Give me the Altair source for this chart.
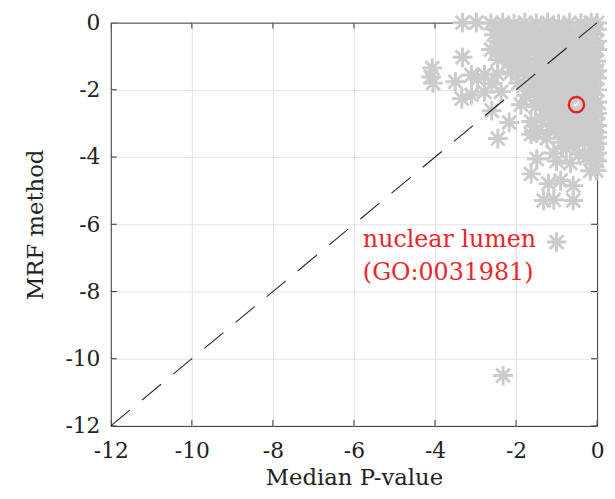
import altair as alt
import pandas as pd

FONT = "DejaVu Serif"
tick_values = [-12, -10, -8, -6, -4, -2, 0]

# gray asterisks (Median P-value, MRF method)
pts_x = [
    # y ~ 0
    -3.32, -2.98, -2.62, -2.33, -2.05, -1.78, -1.5, -1.22, -0.95, -0.68, -0.4, -0.15, 0.0,
    # y ~ -0.2
    -2.48, -2.2, -1.92, -1.63, -1.35, -1.07, -0.8, -0.52, -0.26, 0.0,
    # y ~ -0.38
    -2.55, -2.28, -2.0, -1.72, -1.45, -1.18, -0.9, -0.62, -0.35, -0.08,
    # y ~ -0.56
    -2.42, -2.14, -1.86, -1.58, -1.31, -1.04, -0.76, -0.49, -0.22, 0.0,
    # y ~ -0.75
    -2.62, -2.4, -2.12, -1.85, -1.58, -1.3, -1.02, -0.75, -0.48, -0.2, 0.0,
    # y ~ -0.93
    -2.3, -2.02, -1.76, -1.47, -1.2, -0.94, -0.66, -0.4, -0.13,
    # y ~ -1.12
    -2.45, -2.18, -1.9, -1.64, -1.36, -1.08, -0.82, -0.55, -0.27, -0.02,
    # y ~ -1.3
    -1.98, -1.74, -1.5, -1.22, -0.95, -0.68, -0.41, -0.14,
    # y ~ -1.48
    -2.12, -1.82, -1.56, -1.28, -1.0, -0.73, -0.46, -0.2, 0.0,
    # y ~ -1.65
    -1.55, -1.26, -0.99, -0.72, -0.45, -0.19, 0.0,
    # y ~ -1.83
    -1.95, -1.68, -1.4, -1.12, -0.86, -0.6, -0.33, -0.07,
    # y ~ -2.0
    -1.5, -1.25, -1.0, -0.74, -0.5, -0.24, 0.0,
    # y ~ -2.18
    -1.75, -1.48, -1.2, -0.93, -0.66, -0.38, -0.12,
    # y ~ -2.35
    -1.36, -1.1, -0.82, -0.2, 0.0,
    # y ~ -2.52
    -1.52, -1.26, -0.98, -0.72, -0.28, -0.02,
    # y ~ -2.7
    -1.2, -0.95, -0.7, -0.44, -0.17, 0.0,
    # y ~ -2.88
    -1.38, -1.1, -0.84, -0.56, -0.3, -0.04,
    # y ~ -3.05
    -1.05, -0.8, -0.53, -0.27, 0.0,
    # y ~ -3.22
    -1.18, -0.92, -0.66, -0.4, -0.15, 0.0,
    # y ~ -3.4
    -0.78, -0.5, -0.22, 0.0,
    # y ~ -3.58
    -0.88, -0.6, -0.33, -0.06,
    # y ~ -3.9
    -0.45, -0.2, 0.0,
    # scattered upper-left
    -4.07, -4.1, -4.05, -3.32, -3.5, -3.34, -3.1, -3.1, -2.95, -2.78, -2.78, -2.6,
    -2.46, -2.37, -2.6, -2.45, -2.17, -1.88, -1.63, -1.63, -1.8,
    # scattered lower-right
    -1.56, -1.24, -1.49, -1.63, -1.2, -0.9, -0.59, -1.32, -1.07, -0.59, -1.0, -0.66,
    -0.27, 0.0, -0.17, 0.0, -0.1, -0.34, -0.76, -1.07, -1.49, -0.02,
    # outliers
    -2.32, -1.0,
]
pts_y = [
    0.0, 0.0, -0.02, 0.0, -0.03, 0.0, -0.02, 0.0, -0.04, 0.0, -0.02, 0.0, -0.01,
    -0.2, -0.18, -0.22, -0.19, -0.21, -0.17, -0.2, -0.23, -0.18, -0.2,
    -0.36, -0.42, -0.35, -0.4, -0.38, -0.33, -0.41, -0.37, -0.39, -0.35,
    -0.56, -0.58, -0.54, -0.57, -0.55, -0.59, -0.53, -0.56, -0.58, -0.55,
    -0.8, -0.72, -0.78, -0.74, -0.7, -0.79, -0.73, -0.77, -0.71, -0.76, -0.8,
    -0.93, -0.95, -0.91, -0.94, -0.92, -0.96, -0.9, -0.93, -0.95,
    -1.1, -1.15, -1.08, -1.14, -1.1, -1.16, -1.09, -1.13, -1.11, -1.15,
    -1.3, -1.28, -1.32, -1.29, -1.31, -1.27, -1.33, -1.3,
    -1.47, -1.5, -1.44, -1.49, -1.46, -1.52, -1.45, -1.5, -1.43,
    -1.65, -1.67, -1.63, -1.66, -1.64, -1.68, -1.65,
    -1.8, -1.86, -1.82, -1.85, -1.8, -1.84, -1.87, -1.82,
    -2.0, -2.02, -1.98, -2.01, -2.03, -1.99, -2.0,
    -2.16, -2.2, -2.15, -2.21, -2.17, -2.19, -2.14,
    -2.35, -2.33, -2.37, -2.34, -2.36,
    -2.5, -2.55, -2.49, -2.54, -2.51, -2.56,
    -2.7, -2.68, -2.72, -2.69, -2.71, -2.7,
    -2.86, -2.9, -2.85, -2.91, -2.87, -2.84,
    -3.05, -3.03, -3.07, -3.04, -3.06,
    -3.2, -3.25, -3.21, -3.24, -3.19, -3.26,
    -3.4, -3.42, -3.38, -3.41,
    -3.56, -3.6, -3.55, -3.61,
    -3.9, -3.95, -3.88,
    -1.35, -1.62, -1.8, -1.03, -1.76, -2.26, -1.56, -2.15, -1.68, -1.55, -2.06, -1.82,
    -1.53, -2.06, -2.62, -3.45, -2.97, -2.44, -2.94, -3.32, -1.38,
    -3.24, -3.44, -4.06, -4.5, -4.79, -4.7, -4.85, -5.29, -5.27, -5.29, -4.12, -4.18,
    -4.03, -4.12, -4.41, -3.6, -3.32, -3.53, -3.74, -3.88, -3.29, -4.4,
    -10.5, -6.53,
]

diag_x = [-12, 0]
diag_y = [-12, 0]

hl_x = [-0.51]
hl_y = [-2.44]

label_x = [-5.78]
label_y = [-6.68]
label_text = ["nuclear lumen\n(GO:0031981)"]

pts = pd.DataFrame({"x": pts_x, "y": pts_y})
diag = pd.DataFrame({"x": diag_x, "y": diag_y})
hl = pd.DataFrame({"x": hl_x, "y": hl_y})
lab = pd.DataFrame({"x": label_x, "y": label_y, "t": label_text})
ticks = pd.DataFrame({"v": tick_values})

xs = alt.Scale(domain=[-12, 0], nice=False, zero=False)
ys = alt.Scale(domain=[-12, 0], nice=False, zero=False)

grid_op = {"condition": {"test": "datum.value == -12 || datum.value == 0", "value": 0}, "value": 1}

xaxis = alt.Axis(values=tick_values, title="Median P-value", grid=True, gridColor="#e3e3e3",
                 gridOpacity=grid_op, domain=False, ticks=False, tickSize=0,
                 labelExpr="toString(datum.value)", labelFont=FONT, labelFontSize=22,
                 labelColor="#222222", labelPadding=15, labelFlush=False,
                 titleFont=FONT, titleFontSize=23, titleFontWeight="normal",
                 titleColor="#222222", titlePadding=5)
yaxis = alt.Axis(values=tick_values, title="MRF method", grid=True, gridColor="#e3e3e3",
                 gridOpacity=grid_op, domain=False, ticks=False, tickSize=0,
                 labelExpr="toString(datum.value)", labelFont=FONT, labelFontSize=22,
                 labelColor="#222222", labelPadding=11, labelFlush=False,
                 titleFont=FONT, titleFontSize=23, titleFontWeight="normal",
                 titleColor="#222222", titlePadding=18)

ASTER = "M-1,0L1,0M0,-1L0,1M-0.7,-0.7L0.7,0.7M-0.7,0.7L0.7,-0.7"

points = alt.Chart(pts).mark_point(shape=ASTER, size=400, filled=False, color="#cccccc",
                                   strokeWidth=3, opacity=1).encode(
    x=alt.X("x:Q", scale=xs, axis=xaxis),
    y=alt.Y("y:Q", scale=ys, axis=yaxis),
)

tick_style = dict(size=12, thickness=1, color="#333333", clip=True, opacity=1)
t_bottom = alt.Chart(ticks).mark_tick(orient="vertical", **tick_style).encode(
    x=alt.X("v:Q", scale=xs), y=alt.datum(-12))
t_top = alt.Chart(ticks).mark_tick(orient="vertical", **tick_style).encode(
    x=alt.X("v:Q", scale=xs), y=alt.datum(0))
t_left = alt.Chart(ticks).mark_tick(orient="horizontal", **tick_style).encode(
    y=alt.Y("v:Q", scale=ys), x=alt.datum(-12))
t_right = alt.Chart(ticks).mark_tick(orient="horizontal", **tick_style).encode(
    y=alt.Y("v:Q", scale=ys), x=alt.datum(0))

line = alt.Chart(diag).mark_line(color="#222222", strokeWidth=1.1, strokeDash=[25, 16]).encode(
    x=alt.X("x:Q", scale=xs), y=alt.Y("y:Q", scale=ys), order="x:Q")

circle = alt.Chart(hl).mark_point(shape="circle", size=240, filled=False, color="#ee2020",
                                  strokeWidth=2.4, opacity=1).encode(
    x=alt.X("x:Q", scale=xs), y=alt.Y("y:Q", scale=ys))

text = alt.Chart(lab).mark_text(align="left", baseline="alphabetic", font=FONT, fontSize=24,
                                color="#e8262b", lineBreak="\n", lineHeight=33).encode(
    x=alt.X("x:Q", scale=xs), y=alt.Y("y:Q", scale=ys), text="t:N")

chart = alt.layer(t_bottom, t_top, t_left, t_right, points, line, circle, text).properties(
    width=492, height=408,
    padding={"left": 104, "top": 12, "right": 10, "bottom": 62},
    autosize=alt.AutoSizeParams(type="none"),
).configure_view(stroke="#333333", strokeWidth=1)

chart.save("out.html", embed_options={"renderer": "svg", "actions": False})
